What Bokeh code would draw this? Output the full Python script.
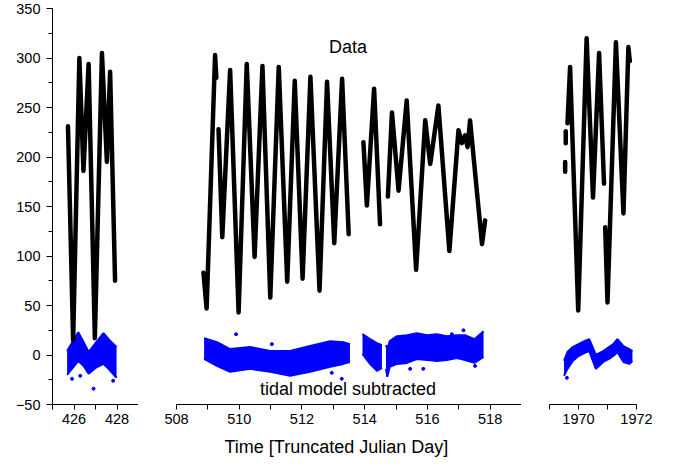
from bokeh.plotting import figure
from bokeh.layouts import row
from bokeh.models import Range1d, FixedTicker, SingleIntervalTicker, Label, Title
from bokeh.embed import file_html
from bokeh.resources import INLINE

NaN = float("nan")

# ---------------- data ----------------
# Panel 1 (TJD 425-429) : measured data (black)
p1_time = [425.72, 425.96, 426.25, 426.44, 426.68, 426.97, 427.30, 427.53, 427.68, 427.91]
p1_data = [231, 15, 300, 186, 294, 17, 305, 195, 286, 75]
# Panel 1 : tidal model subtracted (blue band: upper / lower edge)
r1_time = [425.68, 425.90, 426.20, 426.45, 426.68, 427.00, 427.37, 427.65, 427.98]
r1_upper = [4, 12, 23, 13, 3, 12, 22, 15, 8]
r1_lower = [-20, -14, -6, -11, -19, -13, -9, -15, -23]

# Panel 2 (TJD 508-519)
p2_time = [508.86, 508.96, 509.23, 509.27, NaN, 509.34, 509.46, 509.71, 509.98, 510.24,
           510.49, 510.74, 510.99, 511.26, 511.53, 511.77, 512.02, 512.27, 512.56, 512.80,
           513.03, 513.28, 513.49, NaN,
           513.96, 514.07, 514.30, 514.49, NaN, 514.74, 514.87, 515.08, 515.34, 515.64,
           515.93, 516.09, 516.35, 516.70, 516.99, 517.10, 517.20, 517.28, 517.36, 517.74, 517.84]
p2_data = [83, 47, 303, 280, NaN, 228, 119, 288, 43, 294,
           99, 292, 58, 291, 74, 277, 77, 281, 65, 276,
           113, 279, 122, NaN,
           215, 151, 269, 132, NaN, 160, 245, 166, 257, 86,
           237, 193, 252, 105, 227, 214, 222, 210, 237, 112, 136]
r2a_time = [508.88, 509.29, 509.71, 510.35, 510.99, 511.62, 512.26, 512.90, 513.32, 513.53]
r2a_upper = [17, 13, 6, 8, 4, 4, 9, 14, 13, 11]
r2a_lower = [-4, -11, -17, -14, -17, -21, -17, -12, -9, -7]
r2b_time = [513.93, 514.17, 514.39, 514.55]
r2b_upper = [21, 16, 12, 10]
r2b_lower = [1, -9, -16, -13]
r2c_time = [514.68, 514.72, 514.80, 515.03, 515.35, 515.66, 516.00, 516.30, 516.62, 516.94, 517.20, 517.50, 517.79]
r2c_upper = [10, 6, 14, 19, 20, 22, 20, 21, 19, 20, 20, 16, 24]
r2c_lower = [-14, -22, -12, -9, -8, -4, -5, -6, -5, -3, -5, -8, -2]

# Panel 3 (TJD 1969-1972)
p3_time = [1969.54, 1969.54, NaN, 1969.56, 1969.56, NaN,
           1969.62, 1969.71, 1969.99, 1970.28, 1970.50, 1970.71, 1970.88, NaN,
           1970.92, 1971.00, 1971.29, 1971.55, 1971.72, 1971.77]
p3_data = [185, 195, NaN, 214, 226, NaN,
           234, 291, 45, 320, 159, 305, 173, NaN,
           129, 53, 316, 143, 311, 297]
r3_time = [1969.50, 1969.62, 1969.80, 1970.00, 1970.20, 1970.37, 1970.60, 1970.85,
           1971.05, 1971.20, 1971.34, 1971.55, 1971.75, 1971.86]
r3_upper = [-6, 3, 8, 11, 14, 16, 0, 4, 8, 11, 16, 9, 6, 4]
r3_lower = [-21, -14, -6, -1, 2, 4, -14, -7, -4, -1, 3, -7, -9, -6]

# isolated residual points
out_time = [425.91, 426.29, 426.91, 427.82, 509.90, 511.04, 512.95, 513.27,
            515.45, 515.87, 516.78, 517.15, 517.52, 1969.60]
out_value = [-24, -21, -34, -26, 21, 11, -18, -24, -14, -14, 21, 25, -11, -23]

# axes
y_limits = (-50, 350)
x1_limits = (425, 429)
x2_limits = (508, 519)
x3_limits = (1969, 1972)
x1_major = [426, 428]
x1_minor = [425, 427, 429]
x2_major = [508, 510, 512, 514, 516, 518]
x2_minor = [509, 511, 513, 515, 517, 519]
x3_major = [1970, 1972]
x3_minor = [1969, 1971]
x_title = "Time [Truncated Julian Day]"

FONT = "Liberation Sans"
BLACK = "black"
BLUE = "#0000ff"

y_range = Range1d(*y_limits)


def make_panel(xlim, major, minor, frame_w, left, right, with_y):
    p = figure(frame_width=frame_w, frame_height=396,
               x_range=Range1d(*xlim), y_range=y_range,
               output_backend="svg", toolbar_location=None,
               min_border_left=left, min_border_right=right,
               min_border_top=8, min_border_bottom=64,
               y_axis_location="left" if with_y else None,
               background_fill_color="white", border_fill_color="white")
    p.outline_line_color = None
    p.xgrid.visible = False
    p.ygrid.visible = False
    ax = p.xaxis[0]
    ax.ticker = FixedTicker(ticks=major, minor_ticks=minor)
    ax.major_tick_out = 5
    ax.major_tick_in = 0
    ax.minor_tick_out = 5
    ax.minor_tick_in = 0
    ax.axis_line_color = BLACK
    ax.major_tick_line_color = BLACK
    ax.minor_tick_line_color = BLACK
    ax.major_label_text_font = FONT
    ax.major_label_text_font_size = "14.5px"
    ax.major_label_text_color = BLACK
    ax.major_label_standoff = 4
    if with_y:
        ay = p.yaxis[0]
        ay.ticker = SingleIntervalTicker(interval=50, num_minor_ticks=2)
        ay.major_tick_out = 6
        ay.major_tick_in = 0
        ay.minor_tick_out = 4
        ay.minor_tick_in = 0
        ay.axis_line_color = BLACK
        ay.major_tick_line_color = BLACK
        ay.minor_tick_line_color = BLACK
        ay.major_label_text_font = FONT
        ay.major_label_text_font_size = "14.5px"
        ay.major_label_text_color = BLACK
        ay.major_label_standoff = 6
    return p


p1 = make_panel(x1_limits, x1_major, x1_minor, 86, 52, 0, True)
p2 = make_panel(x2_limits, x2_major, x2_minor, 345, 38, 0, False)
p3 = make_panel(x3_limits, x3_major, x3_minor, 87, 28, 36, False)


def band(p, t, lo, hi):
    p.varea(x=t, y1=lo, y2=hi, fill_color=BLUE)
    p.line(x=t, y=lo, line_color=BLUE, line_width=2)
    p.line(x=t, y=hi, line_color=BLUE, line_width=2)


band(p1, r1_time, r1_lower, r1_upper)
band(p2, r2a_time, r2a_lower, r2a_upper)
band(p2, r2b_time, r2b_lower, r2b_upper)
band(p2, r2c_time, r2c_lower, r2c_upper)
band(p3, r3_time, r3_lower, r3_upper)

for p in (p1, p2, p3):
    p.scatter(x=out_time, y=out_value, size=3, color=BLUE)

for p, t, v in ((p1, p1_time, p1_data), (p2, p2_time, p2_data), (p3, p3_time, p3_data)):
    p.line(x=t, y=v, line_color=BLACK, line_width=4.5, line_join="round", line_cap="round")

p2.add_layout(Label(x=513.47, y=311.5, text="Data", text_align="center",
                    text_baseline="alphabetic", text_font=FONT,
                    text_font_size="18px", text_color=BLACK))
p2.add_layout(Label(x=513.47, y=-34.0, text="tidal model subtracted", text_align="center",
                    text_baseline="alphabetic", text_font=FONT,
                    text_font_size="18px", text_color=BLACK))
p2.add_layout(Title(text=x_title, align="left", offset=48, standoff=17,
                    text_font=FONT, text_font_size="18px", text_font_style="normal",
                    text_color=BLACK), "below")

layout = row(p1, p2, p3)

open("out.html", "w").write(file_html(layout, INLINE))
